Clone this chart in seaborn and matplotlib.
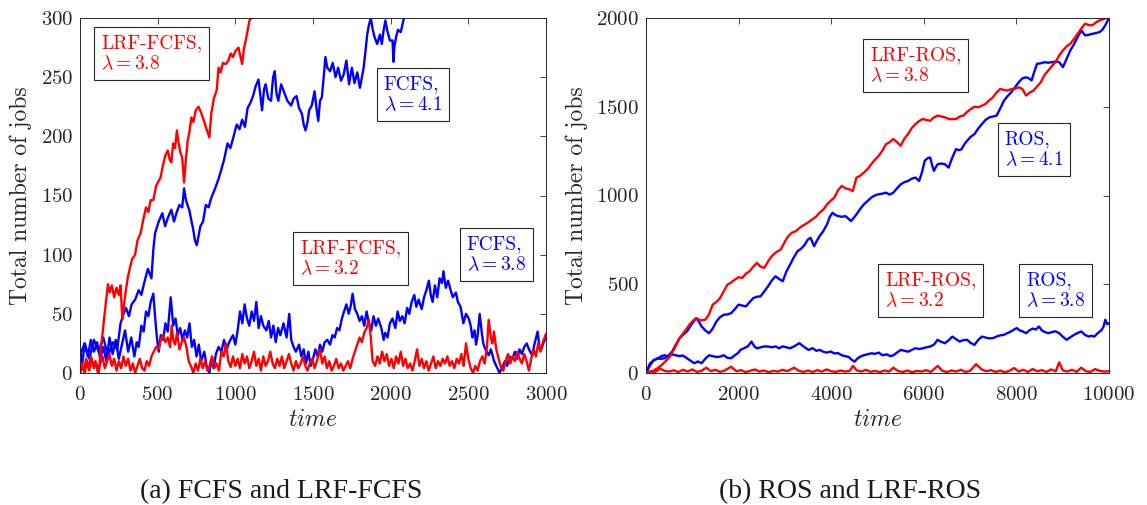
import matplotlib
matplotlib.use("Agg")
import matplotlib.pyplot as plt
import seaborn as sns
import pandas as pd

# Data: (time, total number of jobs)
# panel (a): FCFS and LRF-FCFS
FCFS_41 = [(0, 15), (30, 25), (60, 12), (90, 28), (120, 18), (150, 30), (180, 14), (210, 26), (240, 20),
           (261, 42), (280, 50), (296, 55), (315, 48), (332, 58), (355, 62), (378, 70), (395, 66), (413, 76),
           (437, 88), (460, 80), (472, 104), (483, 118), (507, 128), (530, 135), (548, 124), (565, 131),
           (588, 138), (605, 128), (623, 136), (640, 142), (658, 140), (670, 156), (682, 146), (705, 137),
           (718, 128), (728, 122), (740, 112), (752, 108), (775, 124), (792, 128), (810, 142), (828, 140),
           (845, 148), (870, 156), (892, 164), (910, 172), (927, 180), (950, 194), (968, 190), (985, 198),
           (1009, 210), (1027, 206), (1044, 214), (1062, 208), (1079, 224), (1096, 228), (1114, 234),
           (1130, 242), (1149, 248), (1160, 236), (1172, 222), (1185, 240), (1195, 244), (1212, 232),
           (1230, 230), (1243, 250), (1254, 255), (1265, 236), (1277, 230), (1295, 244), (1312, 238),
           (1335, 230), (1359, 226), (1376, 232), (1394, 234), (1410, 224), (1429, 219), (1440, 210),
           (1452, 205), (1465, 212), (1475, 222), (1492, 226), (1510, 238), (1522, 224), (1534, 213),
           (1545, 230), (1557, 233), (1569, 250), (1580, 267), (1592, 258), (1610, 255), (1627, 262),
           (1645, 250), (1662, 258), (1680, 247), (1697, 252), (1715, 264), (1732, 244), (1750, 258),
           (1767, 245), (1785, 254), (1802, 241), (1815, 250), (1826, 258), (1838, 272), (1849, 286),
           (1860, 294), (1872, 300), (1885, 290), (1896, 284), (1913, 278), (1931, 286), (1943, 278),
           (1954, 289), (1966, 298), (1977, 290), (1995, 281), (2012, 281), (2018, 263), (2024, 276),
           (2035, 284), (2047, 290), (2065, 288), (2082, 298), (2095, 305), (2106, 310), (2140, 320)]

FCFS_38 = [(0, 20), (15, 8), (30, 25), (50, 14), (70, 28), (90, 18), (110, 26), (130, 12), (150, 22),
           (170, 10), (190, 30), (210, 16), (230, 28), (250, 12), (270, 24), (290, 36), (310, 18), (330, 30),
           (350, 14), (365, 26), (378, 22), (395, 40), (410, 35), (425, 52), (440, 48), (455, 60), (472, 67),
           (485, 45), (495, 30), (507, 18), (520, 32), (535, 28), (550, 42), (565, 35), (584, 64), (600, 40),
           (615, 46), (630, 32), (645, 38), (660, 28), (675, 36), (690, 30), (705, 42), (720, 22), (735, 28),
           (750, 14), (765, 24), (780, 10), (800, 18), (815, 6), (833, 0), (845, 12), (860, 4), (875, 16),
           (892, 22), (910, 18), (927, 28), (945, 20), (960, 26), (985, 32), (1000, 24), (1015, 36),
           (1030, 52), (1045, 42), (1060, 58), (1075, 46), (1090, 40), (1105, 52), (1120, 44), (1135, 60),
           (1150, 38), (1165, 48), (1180, 40), (1200, 36), (1215, 44), (1230, 30), (1245, 40), (1260, 26),
           (1275, 38), (1290, 32), (1310, 42), (1330, 30), (1347, 50), (1360, 28), (1375, 22), (1390, 18),
           (1410, 24), (1425, 14), (1440, 20), (1455, 8), (1470, 18), (1485, 6), (1500, 12), (1515, 20),
           (1530, 14), (1545, 24), (1560, 18), (1575, 26), (1592, 28), (1610, 24), (1625, 32), (1640, 30),
           (1655, 38), (1670, 36), (1686, 46), (1700, 52), (1715, 58), (1730, 50), (1742, 56), (1755, 67),
           (1770, 54), (1785, 50), (1800, 44), (1815, 48), (1830, 40), (1845, 52), (1860, 42), (1875, 36),
           (1890, 48), (1905, 40), (1920, 46), (1940, 38), (1955, 28), (1965, 34), (1980, 30), (1995, 42),
           (2012, 46), (2030, 38), (2045, 52), (2059, 44), (2075, 48), (2090, 42), (2106, 55), (2120, 50),
           (2135, 60), (2152, 66), (2165, 56), (2180, 62), (2200, 54), (2215, 64), (2230, 70), (2246, 78),
           (2258, 66), (2270, 60), (2285, 74), (2300, 64), (2315, 80), (2330, 76), (2340, 86), (2355, 72),
           (2370, 78), (2386, 70), (2400, 64), (2420, 68), (2433, 60), (2450, 56), (2468, 42), (2485, 50),
           (2503, 46), (2515, 40), (2526, 30), (2540, 36), (2550, 24), (2560, 32), (2573, 50), (2585, 36),
           (2596, 25), (2610, 20), (2631, 15), (2645, 20), (2666, 10), (2680, 6), (2701, 0), (2715, 4),
           (2736, 10), (2750, 6), (2765, 14), (2783, 12), (2800, 18), (2815, 12), (2830, 20), (2845, 16),
           (2860, 22), (2876, 25), (2890, 20), (2911, 15), (2925, 24), (2946, 35), (2958, 22), (2970, 20),
           (2985, 26), (3000, 30)]

LRF_FCFS_38 = [(0, 0), (15, 6), (30, 0), (45, 10), (60, 2), (75, 12), (90, 4), (105, 8), (121, 0),
               (133, 18), (145, 33), (160, 52), (180, 75), (191, 68), (205, 74), (220, 64), (235, 72),
               (250, 66), (261, 74), (273, 45), (285, 60), (298, 72), (308, 81), (320, 88), (335, 96),
               (355, 100), (370, 112), (390, 118), (405, 128), (425, 140), (440, 136), (455, 146),
               (472, 146), (490, 158), (505, 162), (518, 165), (535, 176), (550, 184), (565, 188),
               (578, 180), (588, 178), (600, 194), (612, 190), (624, 205), (635, 194), (647, 186),
               (658, 182), (670, 161), (680, 178), (693, 196), (705, 204), (717, 216), (730, 212),
               (745, 222), (763, 225), (780, 220), (798, 213), (815, 206), (833, 199), (845, 219),
               (862, 232), (880, 239), (892, 258), (905, 254), (920, 262), (939, 261), (955, 264),
               (970, 270), (985, 267), (1000, 272), (1020, 275), (1032, 268), (1044, 261), (1055, 274),
               (1067, 281), (1080, 290), (1091, 298), (1105, 300), (1114, 302), (1140, 320)]

LRF_FCFS_32 = [(0, 0), (12, 8), (25, 2), (40, 12), (55, 4), (70, 14), (85, 6), (100, 10), (115, 0),
               (130, 8), (145, 14), (160, 4), (175, 10), (190, 16), (205, 6), (220, 12), (235, 2), (250, 10),
               (265, 4), (280, 14), (295, 6), (310, 12), (325, 2), (340, 8), (355, 0), (370, 6), (385, 12),
               (400, 4), (415, 2), (430, 10), (445, 6), (460, 14), (475, 18), (490, 22), (505, 20), (520, 28),
               (535, 32), (550, 26), (565, 30), (580, 22), (590, 40), (600, 28), (612, 24), (625, 34),
               (640, 20), (655, 26), (670, 30), (685, 22), (700, 10), (717, 5), (730, 0), (745, 8), (760, 2),
               (775, 12), (790, 4), (805, 10), (820, 2), (835, 6), (850, 14), (865, 4), (880, 8), (895, 2),
               (910, 18), (925, 14), (939, 25), (955, 10), (970, 5), (985, 14), (1000, 6), (1015, 12),
               (1030, 4), (1045, 16), (1060, 8), (1075, 14), (1090, 4), (1105, 10), (1120, 18), (1135, 6),
               (1150, 12), (1165, 2), (1180, 14), (1195, 6), (1210, 10), (1225, 18), (1240, 8), (1255, 4),
               (1270, 12), (1285, 6), (1300, 14), (1315, 4), (1330, 10), (1345, 16), (1360, 8), (1375, 2),
               (1390, 10), (1405, 4), (1420, 8), (1435, 14), (1450, 6), (1465, 2), (1480, 8), (1495, 12),
               (1510, 4), (1525, 10), (1545, 20), (1560, 8), (1575, 14), (1590, 4), (1605, 10), (1620, 2),
               (1635, 6), (1650, 12), (1665, 4), (1680, 8), (1695, 2), (1710, 6), (1725, 10), (1740, 4),
               (1755, 12), (1770, 18), (1785, 24), (1800, 30), (1815, 26), (1830, 34), (1845, 38), (1860, 45),
               (1872, 30), (1884, 10), (1900, 6), (1915, 14), (1930, 8), (1945, 18), (1960, 10), (1975, 16),
               (1990, 6), (2005, 12), (2020, 4), (2035, 14), (2050, 8), (2065, 18), (2080, 6), (2095, 12),
               (2110, 4), (2125, 8), (2140, 2), (2155, 10), (2170, 20), (2185, 6), (2200, 12), (2215, 4),
               (2230, 10), (2245, 2), (2260, 8), (2275, 14), (2290, 4), (2305, 10), (2320, 6), (2335, 12),
               (2350, 8), (2365, 14), (2380, 6), (2395, 10), (2410, 4), (2425, 12), (2440, 8), (2455, 16),
               (2470, 6), (2485, 25), (2500, 12), (2515, 4), (2530, 0), (2545, 6), (2560, 2), (2575, 10),
               (2590, 14), (2605, 8), (2620, 22), (2631, 45), (2645, 30), (2655, 25), (2665, 35), (2680, 20),
               (2695, 12), (2710, 5), (2725, 2), (2740, 10), (2755, 16), (2770, 8), (2785, 14), (2800, 10),
               (2815, 18), (2830, 12), (2845, 8), (2860, 16), (2875, 10), (2890, 2), (2905, 12), (2920, 20),
               (2935, 14), (2950, 25), (2965, 18), (2980, 26), (3000, 33)]

# panel (b): ROS and LRF-ROS
ROS_41 = [(0, 0), (88, 55), (167, 70), (247, 83), (330, 80), (406, 83), (490, 100), (565, 121), (645, 160),
          (725, 196), (800, 215), (884, 234), (950, 260), (1003, 281), (1083, 309), (1140, 290), (1202, 262),
          (1280, 240), (1361, 224), (1440, 250), (1521, 290), (1600, 315), (1680, 328), (1760, 330),
          (1839, 337), (1920, 360), (1998, 385), (2080, 380), (2158, 375), (2240, 400), (2317, 422),
          (2400, 430), (2476, 432), (2555, 460), (2635, 488), (2715, 520), (2795, 545), (2874, 530),
          (2954, 517), (3030, 570), (3113, 611), (3190, 650), (3272, 686), (3350, 700), (3432, 724),
          (3490, 750), (3551, 762), (3590, 740), (3631, 714), (3690, 745), (3750, 771), (3830, 800),
          (3909, 837), (3970, 880), (4029, 903), (4090, 890), (4148, 884), (4230, 880), (4307, 884),
          (4370, 870), (4427, 856), (4490, 875), (4546, 894), (4630, 925), (4705, 950), (4790, 970),
          (4865, 988), (4940, 1000), (5024, 1007), (5100, 1010), (5183, 1016), (5260, 1005), (5342, 1016),
          (5420, 1040), (5502, 1063), (5580, 1075), (5661, 1082), (5740, 1095), (5820, 1101), (5900, 1082),
          (5960, 1130), (6019, 1195), (6080, 1210), (6139, 1214), (6180, 1170), (6218, 1139), (6260, 1160),
          (6298, 1176), (6380, 1180), (6457, 1176), (6537, 1157), (6610, 1210), (6696, 1261), (6760, 1255),
          (6815, 1261), (6880, 1290), (6935, 1308), (7010, 1330), (7094, 1346), (7170, 1375), (7253, 1402),
          (7330, 1425), (7413, 1440), (7490, 1445), (7572, 1450), (7650, 1490), (7731, 1534), (7810, 1560),
          (7890, 1582), (7970, 1610), (8050, 1638), (8130, 1660), (8209, 1666), (8270, 1660), (8328, 1648),
          (8390, 1700), (8448, 1742), (8530, 1745), (8607, 1751), (8690, 1748), (8766, 1751), (8850, 1755),
          (8925, 1751), (9005, 1723), (9085, 1770), (9164, 1817), (9240, 1850), (9323, 1893), (9403, 1930),
          (9483, 1902), (9560, 1905), (9642, 1911), (9720, 1915), (9801, 1921), (9860, 1935), (9920, 1959),
          (10000, 2000)]

ROS_38 = [(0, 0), (80, 40), (167, 74), (250, 80), (330, 95), (406, 100), (490, 90), (565, 105), (645, 100),
          (720, 95), (800, 98), (884, 83), (960, 70), (1043, 55), (1120, 65), (1202, 55), (1280, 80),
          (1361, 100), (1440, 95), (1520, 90), (1600, 92), (1680, 100), (1760, 85), (1839, 83), (1920, 100),
          (2000, 115), (2038, 130), (2120, 140), (2200, 150), (2277, 177), (2340, 150), (2397, 139),
          (2480, 145), (2560, 150), (2635, 149), (2720, 145), (2800, 150), (2874, 139), (2950, 150),
          (3030, 145), (3113, 139), (3200, 150), (3312, 168), (3400, 150), (3511, 130), (3600, 140),
          (3680, 125), (3750, 130), (3830, 120), (3900, 115), (3989, 121), (4070, 110), (4150, 112),
          (4228, 100), (4300, 95), (4380, 90), (4440, 75), (4506, 64), (4560, 80), (4626, 92), (4700, 100),
          (4780, 105), (4865, 111), (4950, 108), (5030, 115), (5104, 100), (5200, 105), (5280, 95),
          (5342, 100), (5420, 115), (5502, 130), (5580, 125), (5660, 120), (5741, 130), (5820, 140),
          (5900, 135), (5979, 139), (6060, 145), (6139, 149), (6220, 160), (6298, 187), (6380, 175),
          (6457, 168), (6540, 185), (6616, 205), (6700, 190), (6775, 177), (6850, 185), (6935, 187),
          (7010, 170), (7094, 158), (7170, 185), (7253, 205), (7330, 200), (7410, 195), (7492, 196),
          (7570, 205), (7650, 212), (7731, 215), (7810, 225), (7890, 235), (7950, 245), (8010, 253),
          (8070, 240), (8130, 235), (8209, 224), (8280, 240), (8350, 250), (8420, 245), (8488, 262),
          (8550, 240), (8620, 230), (8687, 224), (8760, 230), (8840, 235), (8925, 224), (9000, 205),
          (9084, 187), (9160, 200), (9244, 215), (9320, 225), (9403, 234), (9480, 215), (9562, 205),
          (9620, 210), (9682, 205), (9760, 225), (9841, 243), (9880, 260), (9920, 300), (9960, 275),
          (10000, 281)]

LRF_ROS_38 = [(0, 0), (120, 8), (247, 26), (360, 50), (486, 83), (600, 130), (725, 196), (850, 240),
              (963, 281), (1083, 309), (1180, 296), (1282, 300), (1360, 330), (1441, 385), (1520, 400),
              (1600, 422), (1680, 460), (1760, 498), (1840, 510), (1919, 526), (2000, 540), (2078, 535),
              (2160, 560), (2237, 573), (2320, 600), (2397, 620), (2470, 600), (2556, 592), (2640, 630),
              (2715, 658), (2810, 680), (2914, 696), (3000, 740), (3073, 771), (3150, 790), (3233, 799),
              (3330, 820), (3432, 837), (3510, 850), (3591, 865), (3670, 880), (3750, 903), (3830, 920),
              (3909, 950), (3990, 970), (4068, 988), (4150, 1030), (4228, 1054), (4310, 1040), (4387, 1035),
              (4467, 1025), (4546, 1101), (4620, 1110), (4705, 1129), (4790, 1150), (4865, 1176), (4940, 1200),
              (5024, 1223), (5100, 1250), (5183, 1289), (5260, 1300), (5342, 1318), (5420, 1300), (5502, 1280),
              (5580, 1320), (5661, 1346), (5740, 1380), (5820, 1402), (5900, 1420), (5979, 1431), (6060, 1425),
              (6139, 1421), (6220, 1440), (6298, 1450), (6380, 1445), (6457, 1440), (6560, 1430), (6696, 1431),
              (6780, 1445), (6855, 1450), (6930, 1470), (7014, 1487), (7090, 1500), (7174, 1497), (7250, 1505),
              (7333, 1516), (7410, 1535), (7492, 1553), (7570, 1580), (7651, 1600), (7730, 1595), (7811, 1591),
              (7890, 1600), (7970, 1600), (8050, 1610), (8129, 1600), (8209, 1563), (8290, 1580), (8368, 1591),
              (8450, 1615), (8527, 1638), (8610, 1680), (8687, 1704), (8770, 1730), (8846, 1751), (8925, 1790),
              (9005, 1817), (9085, 1840), (9164, 1855), (9240, 1880), (9323, 1911), (9400, 1940), (9483, 1968),
              (9560, 1960), (9642, 1959), (9720, 1975), (9801, 1987), (9900, 1995), (10000, 2010)]

LRF_ROS_32 = [(0, 0), (100, 10), (200, 5), (300, 25), (400, 12), (500, 8), (600, 15), (700, 5), (800, 18),
              (900, 8), (1000, 20), (1100, 6), (1200, 12), (1300, 30), (1400, 10), (1500, 18), (1600, 6),
              (1700, 14), (1839, 35), (1950, 10), (2050, 16), (2150, 5), (2250, 12), (2350, 20), (2450, 8),
              (2550, 14), (2650, 4), (2750, 12), (2850, 8), (2950, 18), (3050, 10), (3200, 30), (3300, 12),
              (3400, 6), (3500, 14), (3600, 5), (3700, 16), (3800, 8), (3900, 20), (4000, 10), (4100, 6),
              (4200, 14), (4300, 8), (4400, 12), (4470, 40), (4550, 15), (4650, 8), (4750, 18), (4850, 6),
              (4950, 12), (5050, 4), (5150, 14), (5250, 8), (5342, 30), (5450, 10), (5550, 6), (5650, 14),
              (5750, 4), (5850, 12), (5950, 8), (6050, 16), (6150, 6), (6300, 40), (6400, 12), (6500, 5),
              (6600, 14), (6700, 8), (6800, 18), (6900, 6), (7000, 12), (7130, 50), (7250, 20), (7350, 10),
              (7450, 16), (7550, 6), (7650, 14), (7750, 4), (7850, 12), (7950, 28), (8050, 8), (8150, 18),
              (8250, 6), (8350, 22), (8450, 10), (8550, 16), (8650, 6), (8750, 20), (8850, 10), (8925, 60),
              (9000, 15), (9100, 8), (9200, 18), (9300, 6), (9400, 30), (9500, 10), (9600, 6), (9700, 22),
              (9800, 12), (9900, 8), (10000, 10)]

RED = "#ff0000"
BLUE = "#0000ff"
EDGE = "#262626"

sns.set_theme(style="white")
plt.rcParams["font.family"] = ["cmr10", "DejaVu Serif"]
plt.rcParams["mathtext.fontset"] = "cm"
plt.rcParams["axes.formatter.use_mathtext"] = True
plt.rcParams["axes.unicode_minus"] = False

fig = plt.figure(figsize=(11.47, 5.05), dpi=100)
ax_a = fig.add_axes([80 / 1147, 132 / 505, 466 / 1147, 355 / 505])
ax_b = fig.add_axes([646 / 1147, 132 / 505, 463 / 1147, 355 / 505])


def draw(ax, series):
    for pts, color in series:
        df = pd.DataFrame(pts, columns=["time", "jobs"])
        sns.lineplot(data=df, x="time", y="jobs", color=color, linewidth=1.7,
                     estimator=None, sort=False, ax=ax)


def style(ax, xmax, ymax, xstep, ystep):
    ax.set_xlim(0, xmax)
    ax.set_ylim(0, ymax)
    ax.set_xticks(range(0, xmax + 1, xstep))
    ax.set_yticks(range(0, ymax + 1, ystep))
    ax.tick_params(axis="both", direction="in", top=True, right=True, length=4, width=0.6,
                   color=EDGE, labelsize=15, labelcolor="#262626")
    ax.tick_params(axis="x", pad=9)
    ax.tick_params(axis="y", pad=5)
    for sp in ax.spines.values():
        sp.set_color(EDGE)
        sp.set_linewidth(0.7)
    ax.set_xlabel("$time$", fontsize=17, labelpad=4, color="#262626")
    ax.set_ylabel("Total number of jobs", fontsize=17, labelpad=6, color="#262626")


def label_box(ax, x, y, text, color):
    ax.text(x, y, text, transform=ax.transAxes, color=color, fontsize=14,
            ha="left", va="top", linespacing=1.2,
            bbox=dict(boxstyle="square,pad=0.35", fc="white", ec=EDGE, lw=0.8))


draw(ax_a, [(FCFS_41, BLUE), (FCFS_38, BLUE), (LRF_FCFS_38, RED), (LRF_FCFS_32, RED)])
style(ax_a, 3000, 300, 500, 50)
label_box(ax_a, 0.045, 0.955, "LRF-FCFS,\n$\\lambda = 3.8$", RED)
label_box(ax_a, 0.652, 0.839, "FCFS,\n$\\lambda = 4.1$", BLUE)
label_box(ax_a, 0.472, 0.377, "LRF-FCFS,\n$\\lambda = 3.2$", RED)
label_box(ax_a, 0.830, 0.389, "FCFS,\n$\\lambda = 3.8$", BLUE)

draw(ax_b, [(ROS_41, BLUE), (ROS_38, BLUE), (LRF_ROS_38, RED), (LRF_ROS_32, RED)])
style(ax_b, 10000, 2000, 2000, 500)
label_box(ax_b, 0.484, 0.921, "LRF-ROS,\n$\\lambda = 3.8$", RED)
label_box(ax_b, 0.775, 0.684, "ROS,\n$\\lambda = 4.1$", BLUE)
label_box(ax_b, 0.516, 0.287, "LRF-ROS,\n$\\lambda = 3.2$", RED)
label_box(ax_b, 0.821, 0.287, "ROS,\n$\\lambda = 3.8$", BLUE)

fig.text(281 / 1147, 1 - 492 / 505, "(a) FCFS and LRF-FCFS", family="Liberation Serif",
         fontsize=20, ha="center", va="center", color="#1a1a1a")
fig.text(850 / 1147, 1 - 492 / 505, "(b) ROS and LRF-ROS", family="Liberation Serif",
         fontsize=20, ha="center", va="center", color="#1a1a1a")

fig.savefig("out.png", dpi=100)
